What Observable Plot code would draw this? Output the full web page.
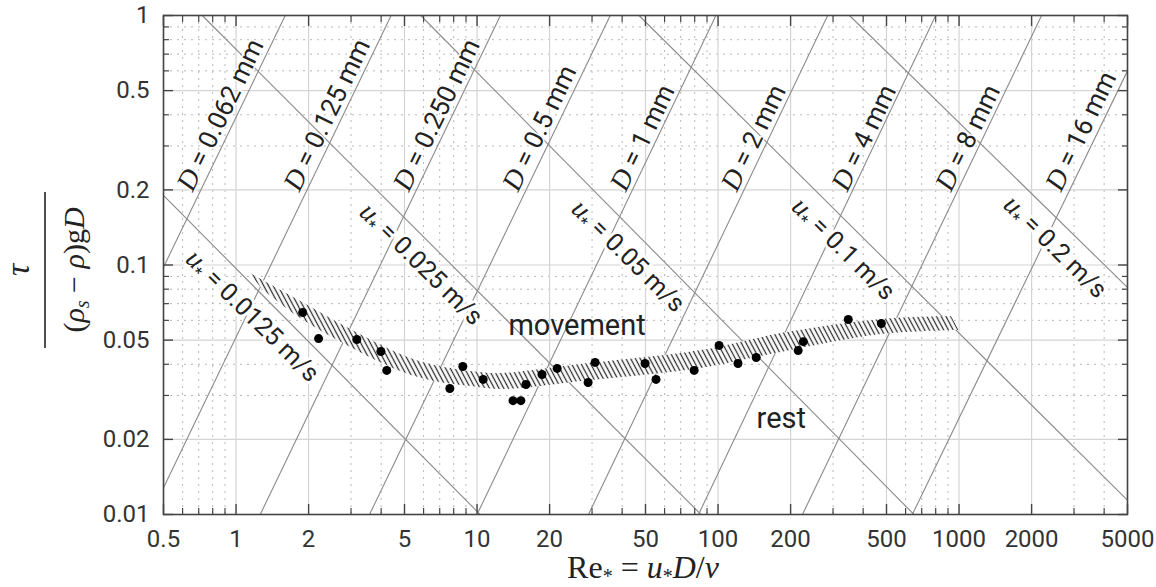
<!DOCTYPE html>
<html><head><meta charset="utf-8">
<script src="https://cdn.jsdelivr.net/npm/d3@7"></script>
<script src="https://cdn.jsdelivr.net/npm/@observablehq/plot@0.6"></script>
<style>body{margin:0;background:#fff;}</style>
</head><body><div id="chart"></div>
<script>
// ---- axes ----
const xMajor = [0.5,1,2,5,10,20,50,100,200,500,1000,2000,5000];
const xTickLabels = ["0.5","1","2","5","10","20","50","100","200","500","1000","2000","5000"];
const xMinor = [0.6,0.7,0.8,0.9,3,4,6,7,8,9,30,40,60,70,80,90,300,400,600,700,800,900,3000,4000];
const yMajor = [0.01,0.02,0.05,0.1,0.2,0.5,1];
const yTickLabels = ["0.01","0.02","0.05","0.1","0.2","0.5","1"];
const yMinor = [0.03,0.04,0.06,0.07,0.08,0.09,0.3,0.4,0.6,0.7,0.8,0.9];

// ---- constant grain-size lines (Re*, theta endpoints) ----
const dNames   = ["0.062","0.125","0.250","0.5","1","2","4","8","16"];
const dReStart = [0.5, 0.5, 1.26, 3.58, 10.0, 29, 83, 224, 640];
const dThStart = [0.098, 0.0128, 0.01, 0.01, 0.01, 0.01, 0.01, 0.01, 0.01];
const dReEnd   = [1.6, 4.4, 12.5, 35.7, 98, 285, 800, 2200, 5000];
const dThEnd   = [1, 1, 1, 1, 1, 1, 1, 1, 0.6];
const dLabelRe = [0.696, 1.926, 5.49, 15.6, 43.6, 126, 362, 976, 2790];
const dLabelTh = [0.19, 0.19, 0.19, 0.19, 0.19, 0.19, 0.19, 0.19, 0.19];

// ---- constant shear-velocity lines ----
const uNames   = ["0.0125","0.025","0.05","0.1","0.2"];
const uReStart = [0.5, 0.724, 5.84, 47, 351];
const uThStart = [0.19, 1, 1, 1, 1];
const uReEnd   = [10.3, 85, 650, 5000, 5000];
const uThEnd   = [0.01, 0.01, 0.01, 0.0114, 0.0813];
const uLabelRe = [1.356, 6.80, 49.1, 384, 2904];
const uLabelTh = [0.072, 0.116, 0.125, 0.1335, 0.136];

// ---- Shields band (hatched) ----
const bandUpperRe = [1.127, 1.854, 2.991, 4.826, 6.43, 9.43, 12.56, 18.42, 27.0, 85.1, 183, 476, 930];
const bandUpperTh = [0.0933, 0.0714, 0.0551, 0.0438, 0.0399, 0.0374, 0.0367, 0.0381, 0.0399, 0.0454, 0.0531, 0.0605, 0.0622];
const bandLowerRe = [1.289, 1.854, 2.991, 4.826, 6.43, 9.43, 12.56, 18.42, 27.0, 85.1, 183, 476, 1000];
const bandLowerTh = [0.0798, 0.0610, 0.0467, 0.0374, 0.0344, 0.0326, 0.0317, 0.0326, 0.0341, 0.0385, 0.0446, 0.0526, 0.0546];

// ---- measured points ----
const dotRe = [1.89,2.20,3.17,3.99,4.22,7.71,8.73,10.6,14.1,15.2,15.96,18.6,21.5,28.9,30.9,49.8,55.3,79.6,101,121,144,215,226,347,476];
const dotTh = [0.0645,0.0507,0.0503,0.0450,0.0378,0.0320,0.0392,0.0348,0.0286,0.0286,0.0332,0.0364,0.0385,0.0338,0.0407,0.0403,0.0348,0.0378,0.0476,0.0403,0.0426,0.0454,0.0493,0.0605,0.0583];

// ---- region labels ----
const regionText = ["movement","rest"];
const regionRe = [26.0, 183];
const regionTh = [0.0572, 0.02425];

// tables
const dLines = dNames.map((n,i)=>({name:n, x1:dReStart[i], y1:dThStart[i], x2:dReEnd[i], y2:dThEnd[i], lx:dLabelRe[i], ly:dLabelTh[i], label:`D = ${n} mm`}));
const uLines = uNames.map((n,i)=>({name:n, x1:uReStart[i], y1:uThStart[i], x2:uReEnd[i], y2:uThEnd[i], lx:uLabelRe[i], ly:uLabelTh[i], label:`u* = ${n} m/s`}));
const band = bandUpperRe.map((r,i)=>({ux:r, uy:bandUpperTh[i], lx:bandLowerRe[i], ly:bandLowerTh[i]}));
const dots = dotRe.map((r,i)=>({x:r, y:dotTh[i]}));
const regions = regionText.map((t,i)=>({t, x:regionRe[i], y:regionTh[i]}));

const SANS = "Roboto, 'Noto Sans', sans-serif";
const SERIF = "'Liberation Serif', 'DejaVu Serif', serif";
const fmtX = d => xTickLabels[xMajor.indexOf(d)];
const fmtY = d => yTickLabels[yMajor.indexOf(d)];
const axCol = "#444";

const svg = Plot.plot({
  width: 1156, height: 587,
  marginTop: 15, marginRight: 29, marginBottom: 73, marginLeft: 163,
  x: {type: "log", domain: [0.5, 5000]},
  y: {type: "log", domain: [0.01, 1]},
  style: {fontFamily: SANS, fontSize: "22px", color: "#222", background: "white"},
  marks: [
    Plot.gridX(xMinor, {stroke: "#b8b8b8", strokeOpacity: 1, strokeDasharray: "2,5", strokeWidth: 1}),
    Plot.gridY(yMinor, {stroke: "#b8b8b8", strokeOpacity: 1, strokeDasharray: "2,5", strokeWidth: 1}),
    Plot.gridX(xMajor, {stroke: "#d4d4d4", strokeOpacity: 1, strokeWidth: 1.2}),
    Plot.gridY(yMajor, {stroke: "#d4d4d4", strokeOpacity: 1, strokeWidth: 1.2}),
    Plot.link(dLines, {x1: "x1", y1: "y1", x2: "x2", y2: "y2", stroke: "#8a8a8a", strokeWidth: 1.1, clip: true}),
    Plot.link(uLines, {x1: "x1", y1: "y1", x2: "x2", y2: "y2", stroke: "#8a8a8a", strokeWidth: 1.1, clip: true}),
    Plot.area(band, {x1: "lx", y1: "ly", x2: "ux", y2: "uy", curve: "catmull-rom", fill: "white"}),
    Plot.area(band, {x1: "lx", y1: "ly", x2: "ux", y2: "uy", curve: "catmull-rom", fill: "url(#hatch)"}),
    Plot.text(uLines, {x: "lx", y: "ly", text: "label", rotate: 44.5, dx: -15.5, dy: 15.5,
      fontSize: 25, fill: "#222", stroke: "white", strokeWidth: 6}),
    Plot.text(dLines, {x: "lx", y: "ly", text: "label", rotate: -64.25, textAnchor: "start", lineAnchor: "bottom",
      dx: -5.5, dy: -2.6, fontSize: 26, fill: "#222", stroke: "white", strokeWidth: 3}),
    Plot.dot(dots, {x: "x", y: "y", r: 4.5, fill: "black", stroke: "none"}),
    Plot.text(regions, {x: "x", y: "y", text: "t", fontSize: 29, fill: "#222"}),
    Plot.frame({stroke: axCol, strokeWidth: 1.6}),
    // inward ticks, four sides
    Plot.axisX(xMajor, {anchor: "bottom", tickSize: -10, fill: "none", stroke: axCol, strokeWidth: 1.4}),
    Plot.axisX(xMinor, {anchor: "bottom", tickSize: -6, fill: "none", stroke: axCol, strokeWidth: 1.2}),
    Plot.axisX(xMajor, {anchor: "top", tickSize: -10, fill: "none", stroke: axCol, strokeWidth: 1.4}),
    Plot.axisX(xMinor, {anchor: "top", tickSize: -6, fill: "none", stroke: axCol, strokeWidth: 1.2}),
    Plot.axisY(yMajor, {anchor: "left", tickSize: -10, fill: "none", stroke: axCol, strokeWidth: 1.4}),
    Plot.axisY(yMinor, {anchor: "left", tickSize: -6, fill: "none", stroke: axCol, strokeWidth: 1.2}),
    Plot.axisY(yMajor, {anchor: "right", tickSize: -10, fill: "none", stroke: axCol, strokeWidth: 1.4}),
    Plot.axisY(yMinor, {anchor: "right", tickSize: -6, fill: "none", stroke: axCol, strokeWidth: 1.2}),
    // tick labels
    Plot.text(xMajor, {x: d => d, text: fmtX, frameAnchor: "bottom", lineAnchor: "top", dy: 15, fontSize: 24, fill: "#333"}),
    Plot.text(yMajor, {y: d => d, text: fmtY, frameAnchor: "left", textAnchor: "end", dx: -14, fontSize: 24, fill: "#333"})
  ]
});

const root = d3.select(svg);
// hatch pattern
const defs = root.insert("defs", ":first-child");
const pat = defs.append("pattern").attr("id", "hatch").attr("patternUnits", "userSpaceOnUse")
  .attr("width", 4.2).attr("height", 10).attr("patternTransform", "rotate(-28)");
pat.append("line").attr("x1", 2.1).attr("y1", -1).attr("x2", 2.1).attr("y2", 11)
  .attr("stroke", "#2a2a2a").attr("stroke-width", 1.25);

// math italics in line labels
root.selectAll("text").each(function () {
  const t = this.textContent; const s = d3.select(this);
  if (t.startsWith("D = ")) {
    s.text(null);
    s.append("tspan").attr("font-family", SERIF).attr("font-style", "italic").attr("font-size", 28).text("D");
    s.append("tspan").text(t.slice(1));
  } else if (t.startsWith("u* = ")) {
    s.text(null);
    s.append("tspan").attr("font-family", SERIF).attr("font-style", "italic").attr("font-size", 28).text("u");
    s.append("tspan").attr("font-size", 16).attr("dy", 5).text("*");
    s.append("tspan").attr("dy", -5).text(t.slice(2));
  }
});

// x title
const xt = root.append("text").attr("x", 643).attr("y", 578).attr("text-anchor", "middle")
  .attr("font-family", SERIF).attr("font-size", 32).attr("fill", "#222");
xt.append("tspan").text("Re");
xt.append("tspan").attr("font-size", 20).attr("dy", 5).text("*");
xt.append("tspan").attr("dy", -5).text(" = ");
xt.append("tspan").attr("font-style", "italic").text("u");
xt.append("tspan").attr("font-size", 20).attr("dy", 5).text("*");
xt.append("tspan").attr("dy", -5).attr("font-style", "italic").text("D");
xt.append("tspan").text("/");
xt.append("tspan").attr("font-style", "italic").text("ν");

// y title (fraction)
const yg = root.append("g").attr("transform", "translate(0,270) rotate(-90)")
  .attr("font-family", SERIF).attr("fill", "#222");
yg.append("text").attr("x", 0).attr("y", 29).attr("text-anchor", "middle").attr("font-size", 34)
  .attr("font-style", "italic").text("τ");
yg.append("line").attr("x1", -78).attr("x2", 78).attr("y1", 45).attr("y2", 45)
  .attr("stroke", "#222").attr("stroke-width", 1.6);
const den = yg.append("text").attr("x", 0).attr("y", 84).attr("text-anchor", "middle").attr("font-size", 30);
den.append("tspan").text("(");
den.append("tspan").attr("font-style", "italic").text("ρ");
den.append("tspan").attr("font-style", "italic").attr("font-size", 20).attr("dy", 5).text("s");
den.append("tspan").attr("dy", -5).text(" − ");
den.append("tspan").attr("font-style", "italic").text("ρ");
den.append("tspan").text(")g");
den.append("tspan").attr("font-style", "italic").text("D");

document.getElementById("chart").appendChild(svg);
</script>
</body></html>
